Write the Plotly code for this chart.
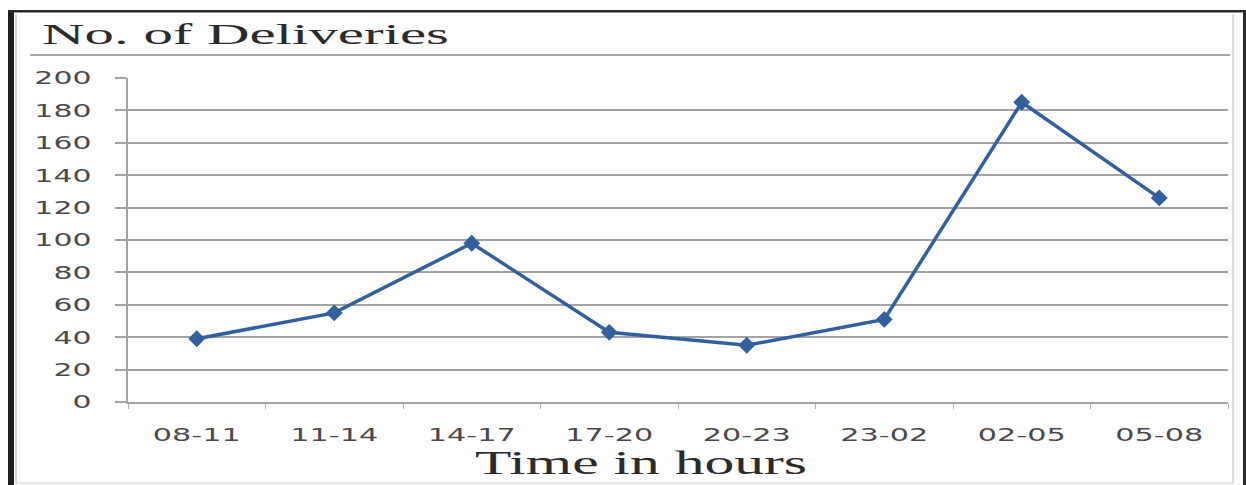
import plotly.graph_objects as go

categories = ["08-11", "11-14", "14-17", "17-20", "20-23", "23-02", "02-05", "05-08"]
deliveries = [39, 55, 98, 43, 35, 51, 185, 126]
y_ticks = [0, 20, 40, 60, 80, 100, 120, 140, 160, 180, 200]
title_text = "No. of Deliveries"
x_title_text = "Time in hours"

W, H = 1246, 485
L, R, T, B = 128, 18, 78, 83
PW, PH = W - L - R, H - T - B

def px(x):
    return (x - L) / PW

def py(y):
    return (H - B - y) / PH

LINE = "#32609e"
GRID = "#a3a3a3"
TICKFONT = dict(family="DejaVu Sans", size=18, color="#4a4a4a")

fig = go.Figure()
fig.add_trace(go.Scatter(
    x=categories, y=deliveries, mode="lines+markers",
    line=dict(color=LINE, width=3.5),
    marker=dict(symbol="diamond", size=13, color=LINE),
    showlegend=False, hoverinfo="skip",
))

fig.update_layout(
    width=W, height=H,
    margin=dict(l=L, r=R, t=T, b=B, pad=0),
    paper_bgcolor="white", plot_bgcolor="white",
    xaxis=dict(
        type="category", showgrid=False, showline=True, linecolor=GRID, linewidth=2,
        ticks="outside", tickson="boundaries", ticklen=5, tickcolor="#b0b0b0", tickwidth=1,
        tickfont=TICKFONT, ticklabelstandoff=15, range=[-0.5, 7.5], zeroline=False,
    ),
    yaxis=dict(
        range=[0, 200], tickvals=y_ticks, showgrid=True, gridcolor=GRID, gridwidth=2,
        showline=True, linecolor=GRID, linewidth=2, ticks="outside", ticklen=11,
        tickcolor=GRID, tickwidth=2, tickfont=TICKFONT, ticklabelstandoff=20, zeroline=False,
    ),
)

shapes = []
# outer frame
shapes.append(dict(type="rect", xref="paper", yref="paper", x0=px(8), x1=px(14), y0=py(485), y1=py(10),
                   fillcolor="#1e1e1e", line=dict(width=0), layer="above"))
shapes.append(dict(type="rect", xref="paper", yref="paper", x0=px(8), x1=px(1246), y0=py(12.5), y1=py(10),
                   fillcolor="#2a2a2a", line=dict(width=0), layer="above"))
shapes.append(dict(type="rect", xref="paper", yref="paper", x0=px(1243), x1=px(1246), y0=py(485), y1=py(10),
                   fillcolor="#2a2a2a", line=dict(width=0), layer="above"))
shapes.append(dict(type="line", xref="paper", yref="paper", x0=px(1233), x1=px(1233), y0=py(483), y1=py(14),
                   line=dict(color="#d0d0d0", width=1.5)))
shapes.append(dict(type="line", xref="paper", yref="paper", x0=px(16), x1=px(16), y0=py(483), y1=py(14),
                   line=dict(color="#d6d6d6", width=2)))
shapes.append(dict(type="line", xref="paper", yref="paper", x0=px(16), x1=px(1233), y0=py(483), y1=py(483),
                   line=dict(color="#dddddd", width=1.5)))
# separator under title
shapes.append(dict(type="line", xref="paper", yref="paper", x0=px(30), x1=px(1230), y0=py(55), y1=py(55),
                   line=dict(color="#a8a8a8", width=2)))
fig.update_layout(shapes=shapes)

fig.add_annotation(text=title_text, xref="paper", yref="paper", x=px(40), y=py(33),
                   xanchor="left", yanchor="middle", showarrow=False,
                   font=dict(family="Liberation Serif", size=30, color="#2b2b2b"))
fig.add_annotation(text=x_title_text, xref="paper", yref="paper", x=px(641), y=py(463),
                   xanchor="center", yanchor="middle", showarrow=False,
                   font=dict(family="Liberation Serif", size=33, color="#2b2b2b"))

post = """
document.documentElement.style.margin = '0';
document.documentElement.style.overflow = 'hidden';
document.body.style.margin = '0';
document.body.style.padding = '0';
document.body.style.overflow = 'hidden';
var gd = document.getElementById('{plot_id}');
function stretch(el, s, mode){
  var b = el.getBBox();
  var a = mode || el.getAttribute('text-anchor') || 'start';
  var p = a === 'end' ? b.x + b.width : (a === 'middle' ? b.x + b.width / 2 : b.x);
  var t = el.getAttribute('transform') || '';
  el.setAttribute('transform', t + ' translate(' + p + ',0) scale(' + s + ',1) translate(' + (-p) + ',0)');
}
gd.querySelectorAll('.xtick text').forEach(function(e){ stretch(e, 1.68); });
gd.querySelectorAll('.ytick text').forEach(function(e){ stretch(e, 1.66); });
gd.querySelectorAll('.annotation-text').forEach(function(e){
  var b = e.getBBox();
  if (e.textContent.indexOf('Deliveries') >= 0) { stretch(e, 407 / b.width, 'start'); }
  else { stretch(e, 332 / b.width, 'middle'); }
});
"""

fig.write_html("out.html", post_script=post, config={"displayModeBar": False, "staticPlot": True})
